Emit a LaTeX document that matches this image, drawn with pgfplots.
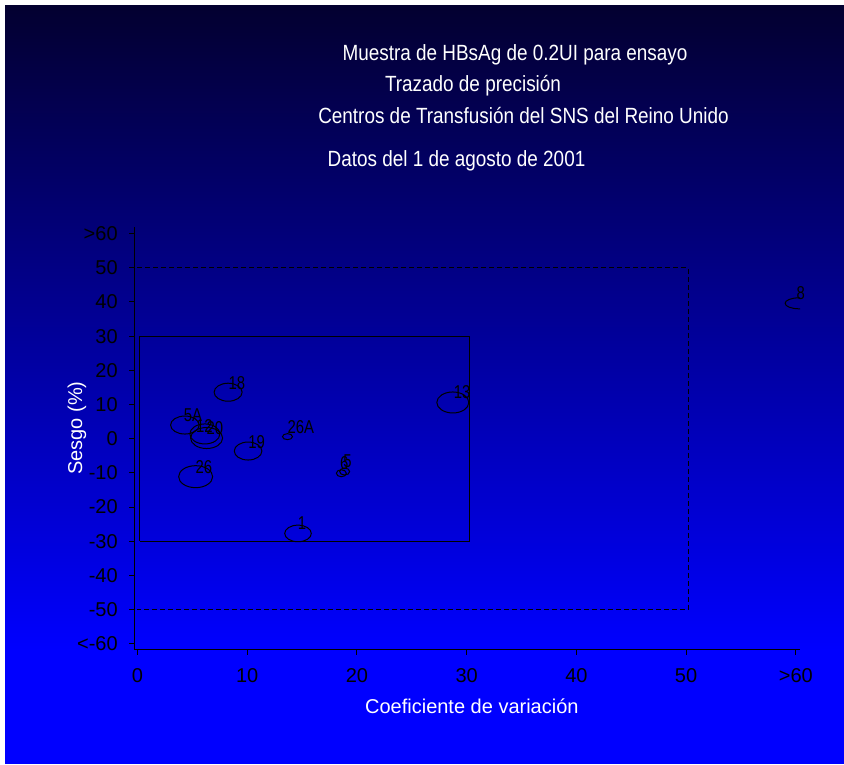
\documentclass[border=0pt]{standalone}
\usepackage{fontspec}
\setmainfont{Liberation Sans}
\newfontfamily\narrowfont[FakeStretch=0.8]{Liberation Sans}
\newfontfamily\titlefont[FakeStretch=0.86]{Liberation Sans}
\usepackage{pgfplots}
\usepackage{pgfplotstable}
\pgfplotsset{compat=1.18}
\definecolor{bgtop}{RGB}{3,0,48}
\definecolor{bgbot}{RGB}{0,0,255}
\pgfdeclareplotmark{ell}{%
  \pgfpathellipse{\pgfpointorigin}{\pgfpoint{\rx pt}{0pt}}{\pgfpoint{0pt}{\ry pt}}%
  \pgfusepathqstroke}
% ellipse centres (data units) and half-axes (pt)
\pgfplotstableread{
x y rx ry
8.26 13.6 14 9
4.32 4.0 14.3 9
6.14 1.4 15 10
6.30 0.2 16 10.5
13.67 0.6 5 3
10.08 -3.6 13.8 9
5.30 -11.1 17 11
18.58 -10.1 5 3.5
18.88 -9.6 5 3.5
14.63 -27.7 13.3 8.3
28.74 10.6 16 10.5
60.3 39.6 14 5.5
}\ellipses
\pgfplotstableread{
x y lab
9.05 16.3 18
5.05 6.9 5A
6.10 3.7 12
7.05 3.1 20
14.88 3.4 26A
10.85 -1.0 19
6.05 -8.3 26
18.84 -7.1 6
19.15 -6.5 5
15.0 -24.6 1
29.59 13.7 13
60.44 42.5 8
}\labels
\pgfplotsset{
  commonaxis/.style={
    scale only axis,
    width=666pt, height=423pt,
    at={(134.2pt,114.3pt)}, anchor=south west,
    xmin=-0.3, xmax=60.4, ymin=-61.7, ymax=62,
  }
}
\begin{document}
\begin{tikzpicture}[x=1pt,y=1pt]
\path[use as bounding box] (0,0) rectangle (844,764);
\fill[white] (0,0) rectangle (844,764);
\shade[top color=bgtop, bottom color=bgbot] (5,114) rectangle (844,758);
\fill[bgbot] (5,0) rectangle (844,114.5);
\begin{axis}[commonaxis,
  axis x line=bottom, axis y line=left,
  axis line style={black, line width=1pt, -},
  tick align=outside, major tick length=5pt,
  tick style={black, line width=0.9pt},
  xtick={0,10,20,30,40,50,60},
  xticklabels={0,10,20,30,40,50,>60},
  ytick={-60,-50,-40,-30,-20,-10,0,10,20,30,40,50,60},
  yticklabels={<-60,-50,-40,-30,-20,-10,0,10,20,30,40,50,>60},
  tick label style={font=\fontsize{20}{22}\selectfont, text=black},
  xticklabel style={yshift=-10pt},
  yticklabel style={xshift=-8pt},
  xlabel={Coeficiente de variación},
  ylabel={Sesgo (\%)},
  every axis x label/.style={at={(axis description cs:0.507,-0.133)}, anchor=center,
     font=\fontsize{20}{24}\selectfont, text=white},
  every axis y label/.style={at={(axis description cs:-0.0859,0.524)}, anchor=center, rotate=90,
     font=\fontsize{20}{24}\selectfont, text=white},
  clip marker paths=true,
]
\addplot[black, dash pattern=on 5pt off 3pt, line width=1pt] coordinates {(0,50) (50.2,50) (50.2,-50) (0,-50)};
\addplot[black, line width=1pt] coordinates {(0.2,-30) (30.25,-30) (30.25,30) (0.2,30) (0.2,-30)};
\addplot[black, only marks, mark=ell, mark options={line width=1pt, fill=none},
  visualization depends on={\thisrow{rx}\as\rx},
  visualization depends on={\thisrow{ry}\as\ry}]
  table[x=x, y=y] {\ellipses};
\end{axis}
\begin{axis}[commonaxis, hide axis, clip=false]
\addplot[only marks, mark=none, nodes near coords, point meta=explicit symbolic,
  every node near coord/.append style={anchor=center, inner sep=0pt,
    font=\narrowfont\fontsize{18.6}{20}\selectfont, text=black}]
  table[x=x, y=y, meta=lab] {\labels};
\end{axis}
\node[text=white, font=\titlefont\fontsize{22}{26}\selectfont] at (515,709) {Muestra de HBsAg de 0.2UI para ensayo};
\node[text=white, font=\titlefont\fontsize{22}{26}\selectfont] at (473,678) {Trazado de precisión};
\node[text=white, font=\titlefont\fontsize{22}{26}\selectfont] at (523.5,648) {Centros de Transfusión del SNS del Reino Unido};
\node[text=white, font=\titlefont\fontsize{22}{26}\selectfont] at (456.5,603) {Datos del 1 de agosto de 2001};
\end{tikzpicture}
\end{document}
